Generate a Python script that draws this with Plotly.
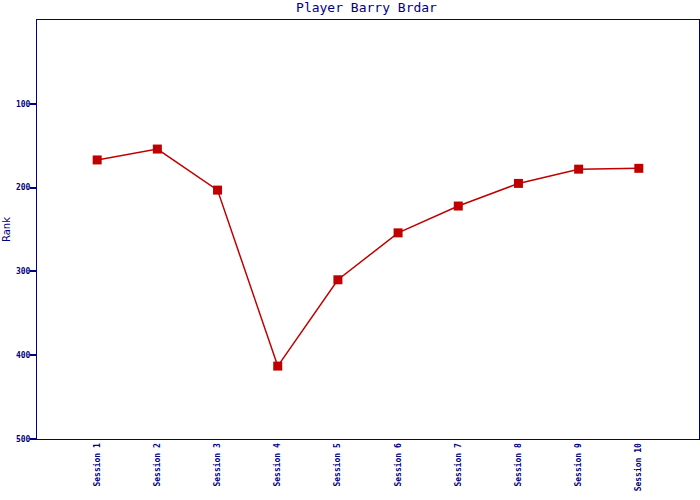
import plotly.graph_objects as go

sessions = ["Session 1", "Session 2", "Session 3", "Session 4", "Session 5",
            "Session 6", "Session 7", "Session 8", "Session 9", "Session 10"]
ranks = [167, 154, 203, 413, 310, 254, 222, 195, 178, 177]
y_ticks = [100, 200, 300, 400, 500]

navy = "#000080"
red = "#C00000"

fig = go.Figure()
fig.add_trace(go.Scatter(
    x=sessions, y=ranks, mode="lines+markers",
    line=dict(color=red, width=1.5),
    marker=dict(symbol="square", size=9, color=red),
    showlegend=False,
))

fig.update_layout(
    width=700, height=500,
    margin=dict(l=37, r=1, t=20, b=61, autoexpand=False),
    paper_bgcolor="white", plot_bgcolor="white",
    title=dict(text="Player Barry Brdar", x=0.5236, xanchor="center", xref="container",
               y=0.994, yref="container", yanchor="top", pad=dict(t=0, b=0),
               font=dict(family="DejaVu Sans Mono", size=13, color=navy)),
    font=dict(family="DejaVu Sans Mono", color=navy),
)
fig.update_xaxes(
    type="category", range=[-1, 10], automargin=False,
    showline=True, mirror=True, linecolor=navy, linewidth=1,
    showgrid=False, zeroline=False, ticks="",
    tickangle=-90, tickfont=dict(family="DejaVu Sans Mono", size=8, color=navy, weight="bold"),
)
fig.update_yaxes(
    range=[500, 0], tickvals=y_ticks, automargin=False,
    showline=True, mirror=True, linecolor=navy, linewidth=1,
    showgrid=False, zeroline=False,
    ticks="outside", ticklen=6, tickcolor=navy, tickwidth=1.5,
    ticklabelstandoff=-2,
    tickfont=dict(family="DejaVu Sans Mono", size=8, color=navy, weight="bold"),
    title=dict(text="Rank", standoff=3, font=dict(family="DejaVu Sans", size=10, color=navy)),
)

fig.write_html("out.html", config={"displayModeBar": False},
               post_script="document.body.style.margin='0';")
